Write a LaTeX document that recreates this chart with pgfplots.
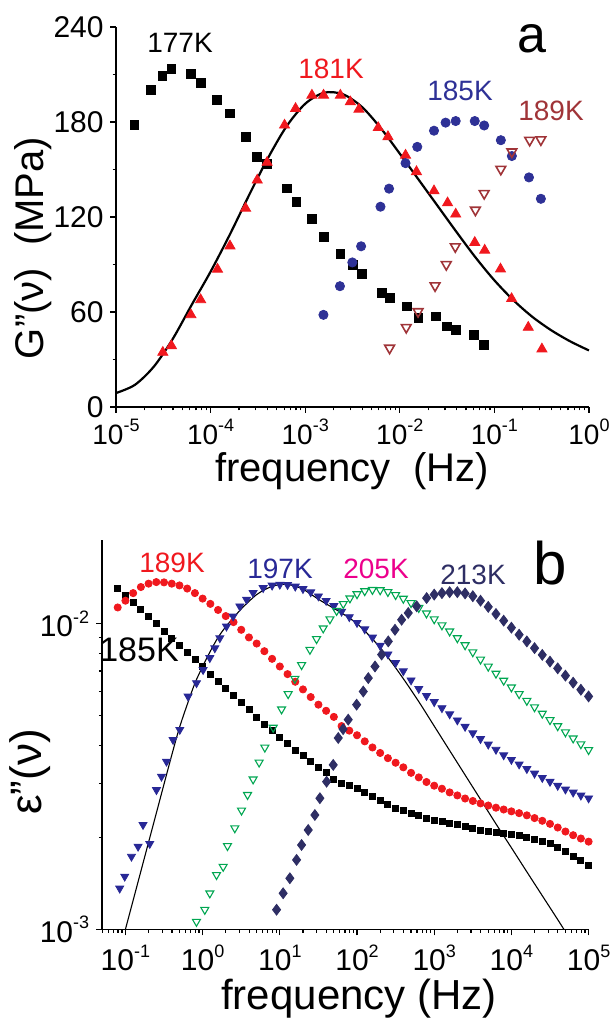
\documentclass[border=0pt]{standalone}
\usepackage{fontspec}
\setmainfont{Liberation Sans}
\usepackage{pgfplots}
\pgfplotsset{compat=1.18}
\definecolor{cred}{RGB}{240,24,30}
\definecolor{cblue}{RGB}{46,49,150}
\definecolor{cbrown}{RGB}{160,52,56}
\definecolor{cblueb}{RGB}{40,40,150}
\definecolor{cgreen}{RGB}{0,166,81}
\definecolor{cmag}{RGB}{236,0,140}
\definecolor{cnavy}{RGB}{46,46,100}
\newcommand\sups[1]{\raisebox{0.45em}{\fontsize{9}{9}\selectfont #1}}
\begin{document}
\begin{tikzpicture}
\path[use as bounding box] (0,0) rectangle (305pt,509pt);
% ---------------- panel a ----------------
\begin{axis}[
  at={(58pt,305.5pt)}, anchor=south west, scale only axis,
  width=236.5pt, height=190pt,
  xmode=log, xmin=1e-5, xmax=1, ymin=0, ymax=240,
  axis x line=bottom, axis y line=left,
  axis line style={-, line width=0.75pt},
  tick align=outside,
  major tick length=3pt, minor tick length=1.7pt,
  every tick/.style={black, line width=0.6pt},
  xtick={1e-5,1e-4,1e-3,1e-2,1e-1,1},
  xticklabels={10\sups{-5},10\sups{-4},10\sups{-3},10\sups{-2},10\sups{-1},10\sups{0}},
  minor xtick={2e-5,3e-5,4e-5,5e-5,6e-5,7e-5,8e-5,9e-5,2e-4,3e-4,4e-4,5e-4,6e-4,7e-4,8e-4,9e-4,2e-3,3e-3,4e-3,5e-3,6e-3,7e-3,8e-3,9e-3,2e-2,3e-2,4e-2,5e-2,6e-2,7e-2,8e-2,9e-2,0.2,0.3,0.4,0.5,0.6,0.7,0.8,0.9},
  ytick={0,60,120,180,240}, yticklabels={0,60,120,180,240},
  minor ytick={30,90,150,210},
  tick label style={font=\fontsize{15}{15}\selectfont},
  yticklabel style={inner sep=1pt, xshift=-2pt},
  xticklabel style={font=\fontsize{14}{14}\selectfont, inner sep=0pt, yshift=-3pt},
  clip=false,
]
\addplot[only marks, mark=square*, mark size=2.2pt, black] coordinates {
(1.563e-5,178.0)(2.328e-5,200.1)(3.097e-5,208.9)(3.855e-5,213.7)(6.194e-5,210.2)(7.852e-5,204.7)(1.169e-4,193.8)(1.603e-4,185.4)(2.344e-4,170.7)(3.112e-4,158.0)(3.954e-4,153.4)(6.353e-4,138.1)(8.054e-4,129.7)(1.178e-3,118.7)(1.563e-3,107.6)(2.355e-3,96.5)(3.192e-3,89.7)(3.972e-3,84.1)(6.501e-3,71.9)(7.870e-3,68.7)(1.183e-2,63.5)(1.574e-2,56.1)(2.393e-2,57.2)(3.119e-2,50.9)(3.954e-2,48.8)(6.1e-2,45.6)(7.8e-2,39.0)};
\addplot[only marks, mark=triangle*, mark size=2.9pt, cred] coordinates {
(3.126e-5,34.5)(3.855e-5,38.7)(6.194e-5,58.2)(7.852e-5,67.7)(1.183e-4,87.0)(1.603e-4,101.7)(2.344e-4,125.5)(3.112e-4,143.3)(3.954e-4,154.5)(6.05e-4,178.0)(7.91e-4,188.5)(1.178e-3,196.9)(1.563e-3,196.9)(2.355e-3,196.9)(3.0e-3,192.7)(3.7e-3,188.0)(5.916e-3,176.4)(7.499e-3,170.7)(1.15e-2,159.0)(1.5e-2,148.6)(2.3e-2,136.5)(3.2e-2,128.9)(3.9e-2,121.8)(6.2e-2,103.9)(7.9e-2,99.0)(0.116,87.1)(0.152,68.4)(0.228,50.3)(0.318,36.6)};
\addplot[only marks, mark=*, mark size=2.3pt, cblue] coordinates {
(1.56e-3,58.2)(2.33e-3,76.3)(3.15e-3,91.3)(3.90e-3,101.5)(6.25e-3,126.5)(7.7e-3,137.9)(1.15e-2,154.0)(1.53e-2,164.3)(2.3e-2,174.5)(3.05e-2,179.6)(3.9e-2,180.6)(6.2e-2,180.6)(7.8e-2,177.8)(0.117,168.5)(0.153,158.5)(0.232,145.0)(0.31,131.5)};
\addplot[only marks, mark=triangle, mark size=2.8pt, mark options={rotate=180, line width=0.8pt}, cbrown] coordinates {
(7.8e-3,37.2)(1.17e-2,50.3)(1.56e-2,60.3)(2.36e-2,76.6)(3.1e-2,90.0)(3.86e-2,101.3)(6.3e-2,124.4)(7.8e-2,134.9)(0.117,150.2)(0.153,161.2)(0.236,168.5)(0.31,168.8)};
\addplot[smooth, tension=0.5, black, line width=1.1pt, no marks] coordinates {
(1e-5,8.8)(1.585e-5,14.0)(2.512e-5,25.5)(3.981e-5,43.0)(6.31e-5,64.5)(1.0e-4,85.5)(1.585e-4,108.5)(2.512e-4,133.0)(3.981e-4,156.5)(6.31e-4,177.0)(1.0e-3,191.5)(1.585e-3,198.5)(2.512e-3,197.5)(3.981e-3,189.5)(6.31e-3,176.0)(1.0e-2,160.0)(1.585e-2,143.5)(2.512e-2,127.0)(3.981e-2,110.5)(6.31e-2,94.5)(0.1,80.0)(0.1585,67.5)(0.2512,57.0)(0.3981,48.5)(0.631,41.5)(1,35.7)};
\end{axis}
\node[font=\fontsize{20}{20}\selectfont, inner sep=0pt] at (176pt,273.5pt) {frequency\ \ (Hz)};
\node[font=\fontsize{20}{20}\selectfont, rotate=90] at (16.5pt,385pt) {G"(ν)\ \ (MPa)};
% ---------------- panel b ----------------
\begin{axis}[
  at={(51.1pt,44.35pt)}, anchor=south west, scale only axis,
  width=243.2pt, height=194.7pt,
  xmode=log, ymode=log, xmin=0.05, xmax=1e5, ymin=1e-3, ymax=0.0188,
  axis x line=bottom, axis y line=left,
  axis line style={-, line width=0.75pt},
  tick align=outside,
  major tick length=3pt, minor tick length=1.7pt,
  every tick/.style={black, line width=0.6pt},
  xtick={0.1,1,10,100,1000,1e4,1e5},
  xticklabels={10\sups{-1},10\sups{0},10\sups{1},10\sups{2},10\sups{3},10\sups{4},10\sups{5}},
  minor xtick={0.05,0.06,0.07,0.08,0.09,0.2,0.3,0.4,0.5,0.6,0.7,0.8,0.9,2,3,4,5,6,7,8,9,20,30,40,50,60,70,80,90,200,300,400,500,600,700,800,900,2000,3000,4000,5000,6000,7000,8000,9000,2e4,3e4,4e4,5e4,6e4,7e4,8e4,9e4},
  ytick={1e-3,1e-2}, yticklabels={10\sups{-3},10\sups{-2}},
  minor ytick={2e-3,3e-3,4e-3,5e-3,6e-3,7e-3,8e-3,9e-3},
  tick label style={font=\fontsize{15}{15}\selectfont},
  xticklabel style={inner sep=0pt, yshift=-4.5pt},
  clip=false,
]
\addplot[only marks, mark=square*, mark size=1.5pt, black] coordinates {
(0.07943,13.09e-3)(0.1,12.42e-3)(0.1259,11.75e-3)(0.1585,11.14e-3)(0.1995,10.54e-3)(0.2512,10.00e-3)(0.3162,9.462e-3)(0.3981,8.974e-3)(0.5012,8.492e-3)(0.631,8.054e-3)(0.7943,7.621e-3)(1,7.228e-3)(1.259,6.839e-3)(1.585,6.486e-3)(1.995,6.138e-3)(2.512,5.821e-3)(3.162,5.508e-3)(3.981,5.224e-3)(5.012,4.943e-3)(6.31,4.688e-3)(7.943,4.467e-3)(10,4.246e-3)(12.59,4.046e-3)(15.85,3.864e-3)(19.95,3.698e-3)(25.12,3.540e-3)(31.62,3.388e-3)(39.81,3.251e-3)(50.12,3.090e-3)(63.1,3.006e-3)(79.43,2.951e-3)(100,2.884e-3)(125.9,2.799e-3)(158.5,2.716e-3)(199.5,2.636e-3)(251.2,2.559e-3)(316.2,2.495e-3)(398.1,2.443e-3)(501.2,2.399e-3)(631,2.355e-3)(794.3,2.312e-3)(1000,2.280e-3)(1259,2.254e-3)(1585,2.228e-3)(1995,2.198e-3)(2512,2.168e-3)(3162,2.138e-3)(3981,2.109e-3)(5012,2.089e-3)(6310,2.070e-3)(7943,2.061e-3)(10000,2.046e-3)(12590,2.023e-3)(15850,1.995e-3)(19950,1.968e-3)(25120,1.941e-3)(31620,1.905e-3)(39810,1.854e-3)(50120,1.799e-3)(63100,1.738e-3)(79430,1.679e-3)(100000,1.622e-3)};
\addplot[only marks, mark=*, mark size=1.8pt, cred] coordinates {
(0.07943,11.30e-3)(0.1,11.89e-3)(0.1259,12.59e-3)(0.1585,13.18e-3)(0.1995,13.52e-3)(0.2512,13.68e-3)(0.3162,13.65e-3)(0.3981,13.52e-3)(0.5012,13.34e-3)(0.631,13.03e-3)(0.7943,12.59e-3)(1,12.08e-3)(1.259,11.61e-3)(1.585,11.09e-3)(1.995,10.59e-3)(2.512,10.12e-3)(3.162,9.550e-3)(3.981,9.016e-3)(5.012,8.610e-3)(6.31,8.128e-3)(7.943,7.674e-3)(10,7.244e-3)(12.59,6.839e-3)(15.85,6.457e-3)(19.95,6.095e-3)(25.12,5.754e-3)(31.62,5.433e-3)(39.81,5.188e-3)(50.12,4.955e-3)(63.1,4.624e-3)(79.43,4.467e-3)(100,4.315e-3)(125.9,4.121e-3)(158.5,3.936e-3)(199.5,3.776e-3)(251.2,3.631e-3)(316.2,3.508e-3)(398.1,3.388e-3)(501.2,3.251e-3)(631,3.141e-3)(794.3,3.034e-3)(1000,2.951e-3)(1259,2.884e-3)(1585,2.805e-3)(1995,2.742e-3)(2512,2.679e-3)(3162,2.630e-3)(3981,2.582e-3)(5012,2.541e-3)(6310,2.500e-3)(7943,2.466e-3)(10000,2.432e-3)(12590,2.399e-3)(15850,2.360e-3)(19950,2.312e-3)(25120,2.265e-3)(31620,2.213e-3)(39810,2.153e-3)(50120,2.089e-3)(63100,2.032e-3)(79430,1.982e-3)(100000,1.936e-3)};
\addplot[only marks, mark=triangle*, mark size=2.3pt, mark options={rotate=180}, cblueb] coordinates {
(0.0843,1.361e-3)(0.0979,1.489e-3)(0.1197,1.730e-3)(0.1459,1.866e-3)(0.1690,2.198e-3)(0.2065,1.905e-3)(0.2523,2.858e-3)(0.2931,3.162e-3)(0.3404,3.540e-3)(0.4140,4.169e-3)(0.5058,4.498e-3)(0.6486,5.781e-3)(0.8337,6.397e-3)(1.014,7.063e-3)(1.239,7.727e-3)(1.439,8.318e-3)(1.671,8.974e-3)(2.037,9.795e-3)(2.483,10.57e-3)(3.034,11.40e-3)(3.707,12.00e-3)(4.508,12.62e-3)(6.081,13.09e-3)(7.943,13.34e-3)(10,13.43e-3)(12.59,13.40e-3)(15.85,13.24e-3)(19.95,13.00e-3)(25.12,12.68e-3)(31.62,12.30e-3)(39.81,11.89e-3)(50.12,11.43e-3)(63.1,10.96e-3)(79.43,10.52e-3)(100,10.07e-3)(125.9,9.594e-3)(158.5,9.016e-3)(199.5,8.472e-3)(251.2,7.943e-3)(316.2,7.447e-3)(398.1,6.998e-3)(501.2,6.531e-3)(631,6.124e-3)(794.3,5.808e-3)(1000,5.546e-3)(1259,5.297e-3)(1585,5.058e-3)(1995,4.831e-3)(2512,4.603e-3)(3162,4.385e-3)(3981,4.198e-3)(5012,4.027e-3)(6310,3.873e-3)(7943,3.715e-3)(10000,3.589e-3)(12590,3.467e-3)(15850,3.350e-3)(19950,3.236e-3)(25120,3.133e-3)(31620,3.041e-3)(39810,2.951e-3)(50120,2.871e-3)(63100,2.805e-3)(79430,2.742e-3)(100000,2.685e-3)};
\addplot[only marks, mark=triangle, mark size=2.3pt, mark options={rotate=180, line width=0.55pt}, cgreen] coordinates {
(0.832,1.059e-3)(1.067,1.159e-3)(1.239,1.312e-3)(1.514,1.507e-3)(1.845,1.603e-3)(2.099,1.875e-3)(2.612,2.143e-3)(3.192,2.449e-3)(3.819,2.754e-3)(4.508,3.097e-3)(5.395,3.516e-3)(6.397,3.936e-3)(8.204,4.571e-3)(10.54,5.248e-3)(12.82,5.888e-3)(15.67,6.607e-3)(19.14,7.328e-3)(24.55,8.222e-3)(29.92,8.913e-3)(36.48,9.661e-3)(44.57,10.35e-3)(54.45,11.02e-3)(66.37,11.61e-3)(80.91,12.11e-3)(100,12.50e-3)(125.9,12.79e-3)(158.5,12.91e-3)(199.5,12.88e-3)(251.2,12.71e-3)(316.2,12.42e-3)(398.1,12.08e-3)(501.2,11.69e-3)(631,11.27e-3)(794.3,10.81e-3)(1000,10.35e-3)(1259,9.886e-3)(1585,9.441e-3)(1995,8.974e-3)(2512,8.511e-3)(3162,8.072e-3)(3981,7.638e-3)(5012,7.244e-3)(6310,6.871e-3)(7943,6.516e-3)(10000,6.194e-3)(12590,5.888e-3)(15850,5.598e-3)(19950,5.333e-3)(25120,5.082e-3)(31620,4.842e-3)(39810,4.624e-3)(50120,4.416e-3)(63100,4.217e-3)(79430,4.036e-3)(100000,3.864e-3)};
\addplot[only marks, mark=diamond*, mark size=2.7pt, cnavy] coordinates {
(9.078,1.159e-3)(11.04,1.312e-3)(13.49,1.469e-3)(16.48,1.687e-3)(19.14,1.888e-3)(23.33,2.113e-3)(28.44,2.366e-3)(33.04,2.685e-3)(40.36,3.041e-3)(49.20,3.451e-3)(57.15,4.227e-3)(66.07,4.519e-3)(76.91,4.853e-3)(98.86,5.433e-3)(120.5,5.998e-3)(140.0,6.637e-3)(171.0,7.244e-3)(208.4,7.925e-3)(254.1,8.750e-3)(310.5,9.550e-3)(378.4,10.30e-3)(461.3,10.84e-3)(592.9,11.40e-3)(798.0,12.13e-3)(1000,12.45e-3)(1259,12.59e-3)(1585,12.68e-3)(1995,12.68e-3)(2512,12.56e-3)(3162,12.30e-3)(3981,11.89e-3)(5012,11.35e-3)(6310,10.76e-3)(7943,10.23e-3)(10000,9.705e-3)(12590,9.204e-3)(15850,8.750e-3)(19950,8.318e-3)(25120,7.907e-3)(31620,7.516e-3)(39810,7.145e-3)(50120,6.761e-3)(63100,6.412e-3)(79430,6.081e-3)(100000,5.781e-3)};
\addplot[smooth, black, line width=0.55pt, no marks] coordinates {
(0.1,1.000e-3)(0.1585,1.549e-3)(0.2512,2.399e-3)(0.3981,3.715e-3)(0.5012,4.571e-3)(0.631,5.433e-3)(0.7943,6.383e-3)(1,7.244e-3)(1.259,8.128e-3)(1.585,9.016e-3)(1.995,9.772e-3)(2.512,10.47e-3)(3.162,11.17e-3)(3.981,11.83e-3)(5.012,12.45e-3)(6.31,12.91e-3)(7.943,13.24e-3)(10,13.43e-3)(12.59,13.43e-3)(15.85,13.27e-3)(19.95,12.97e-3)(25.12,12.50e-3)(31.62,12.02e-3)(39.81,11.61e-3)(63.1,10.84e-3)(100,10.00e-3)(158.5,8.913e-3)(251.2,7.762e-3)(398.1,6.607e-3)(631,5.559e-3)(1000,4.624e-3)(1585,3.846e-3)(2512,3.199e-3)(3981,2.661e-3)(6310,2.213e-3)(10000,1.849e-3)(15850,1.542e-3)(25120,1.288e-3)(39810,1.076e-3)(47860,1.000e-3)};
\end{axis}
\node[font=\fontsize{21}{21}\selectfont, inner sep=0pt] at (179.5pt,9.5pt) {frequency (Hz)};
\node[font=\fontsize{22}{22}\selectfont, rotate=90] at (15pt,123pt) {ε"(ν)};
% ---------------- annotations ----------------
\node[font=\fontsize{14}{14}\selectfont, black] at (90pt,487.5pt) {177K};
\node[font=\fontsize{14}{14}\selectfont, cred] at (165.5pt,474.5pt) {181K};
\node[font=\fontsize{14}{14}\selectfont, cblue] at (230pt,463.5pt) {185K};
\node[font=\fontsize{14}{14}\selectfont, cbrown] at (275.5pt,453.5pt) {189K};
\node[font=\fontsize{26}{26}\selectfont, black, anchor=base, inner sep=0pt] at (266pt,482.5pt) {a};
\node[font=\fontsize{14}{14}\selectfont, cred] at (86pt,227.5pt) {189K};
\node[font=\fontsize{14}{14}\selectfont, cblueb] at (140pt,224.5pt) {197K};
\node[font=\fontsize{14}{14}\selectfont, cmag] at (188pt,224.5pt) {205K};
\node[font=\fontsize{14}{14}\selectfont, cnavy] at (236.5pt,221.5pt) {213K};
\node[font=\fontsize{30}{30}\selectfont, black, anchor=base, inner sep=0pt] at (275pt,216.5pt) {b};
\node[font=\fontsize{17}{17}\selectfont, black] at (69.5pt,184pt) {185K};
\end{tikzpicture}
\end{document}
